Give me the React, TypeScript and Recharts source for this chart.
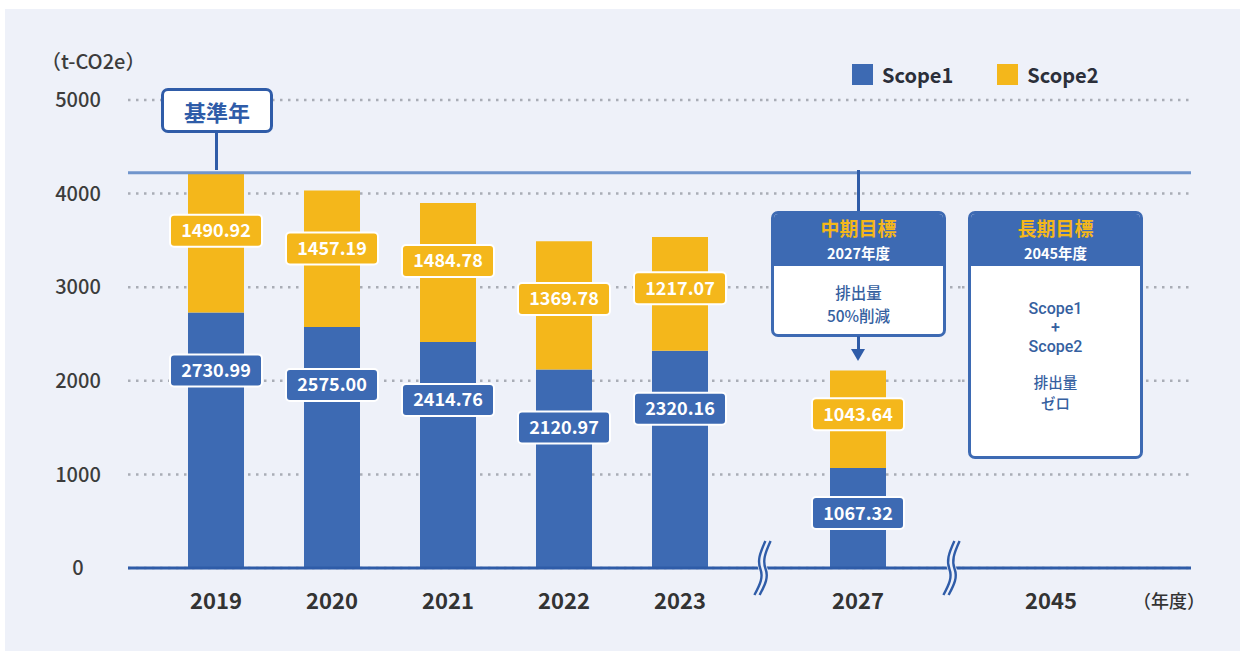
import { Bar, BarChart, CartesianGrid, LabelList, Legend, ReferenceLine, XAxis, YAxis } from "recharts";

// 実績 (t-CO2e)
const pastYears = ["2019", "2020", "2021", "2022", "2023"];
const pastScope1 = [2730.99, 2575.0, 2414.76, 2120.97, 2320.16];
const pastScope2 = [1490.92, 1457.19, 1484.78, 1369.78, 1217.07];

// 中期目標 / 長期目標
const midYears = ["2027"];
const midScope1 = [1067.32];
const midScope2 = [1043.64];
const longYears = ["2045"];

const yTicks = [0, 1000, 2000, 3000, 4000, 5000];
const baseYearTotal = pastScope1[0] + pastScope2[0];

const BLUE = "#3d6ab3";
const YELLOW = "#f4b71b";
const LINE = "#2f5ca8";
const BG = "#eef1f9";
const FONT = '"Noto Sans CJK JP", "Noto Sans", sans-serif';

const pastData = pastYears.map((year, i) => ({ year, scope1: pastScope1[i], scope2: pastScope2[i] }));
const midData = midYears.map((year, i) => ({ year, scope1: midScope1[i], scope2: midScope2[i] }));
const longData = longYears.map((year) => ({ year }));

function ValueTag(props: any) {
  const { x, y, width, height, value, fill } = props;
  if (value == null || !height) return null;
  const cx = Number(x) + Number(width) / 2;
  const cy = Number(y) + Math.min(58, Number(height) * 0.45);
  return (
    <g>
      <rect x={cx - 46} y={cy - 16} width={92} height={32} rx={4} fill={fill} stroke="#fff" strokeWidth={2} />
      <text x={cx} y={cy} dy="0.36em" textAnchor="middle" fill="#fff" fontSize={18} fontWeight={700}>
        {Number(value).toFixed(2)}
      </text>
    </g>
  );
}

const YearTick = ({ x, y, payload }: any) => (
  <text x={x} y={y + 41} textAnchor="middle" fill="#333" fontSize={22} fontWeight={700}>
    {payload.value}
  </text>
);

const ValueTick = ({ y, payload }: any) => (
  <text x={78} y={y} dy="0.36em" textAnchor="middle" fill="#3c3c3c" fontSize={20} fontWeight={500}>
    {payload.value}
  </text>
);

const LegendContent = ({ payload }: any) => (
  <div style={{ display: "flex", alignItems: "center", lineHeight: "21px" }}>
    {(payload || []).map((item: any) => (
      <div key={item.value} style={{ display: "flex", alignItems: "center", marginRight: 44 }}>
        <span style={{ display: "inline-block", width: 21, height: 21, background: item.color, marginRight: 9 }} />
        <span style={{ fontSize: 20, fontWeight: 700, color: "#2b2f3a" }}>{item.value}</span>
      </div>
    ))}
  </div>
);

function Segment({ data, left, width, padding, showY }: any) {
  return (
    <div style={{ position: "absolute", left, top: 0 }}>
      <BarChart width={width} height={651} data={data} margin={{ top: 100, right: 0, bottom: 33, left: 0 }}>
        <CartesianGrid vertical={false} stroke="#a9adb6" strokeDasharray="2.5 5.5" strokeWidth={2.5} />
        <XAxis
          dataKey="year"
          height={50}
          padding={padding}
          tickLine={false}
          tickSize={0}
          tickMargin={0}
          axisLine={{ stroke: LINE, strokeWidth: 3 }}
          tick={<YearTick />}
        />
        <YAxis
          hide={!showY}
          width={128}
          domain={[0, 5000]}
          ticks={yTicks}
          axisLine={false}
          tickLine={false}
          tickSize={0}
          tickMargin={0}
          tick={<ValueTick />}
        />
        <ReferenceLine y={baseYearTotal} stroke="#7095cc" strokeWidth={3} />
        {showY ? (
          <Legend
            layout="horizontal"
            verticalAlign="middle"
            align="center"
            content={<LegendContent />}
            wrapperStyle={{ left: 852, top: 64, width: 400 }}
          />
        ) : null}
        <Bar dataKey="scope1" name="Scope1" stackId="a" fill={BLUE} barSize={56} isAnimationActive={false}>
          <LabelList dataKey="scope1" content={(p: any) => <ValueTag {...p} fill={BLUE} />} />
        </Bar>
        <Bar dataKey="scope2" name="Scope2" stackId="a" fill={YELLOW} barSize={56} isAnimationActive={false}>
          <LabelList dataKey="scope2" content={(p: any) => <ValueTag {...p} fill={YELLOW} />} />
        </Bar>
      </BarChart>
    </div>
  );
}

function BreakMark({ x }: { x: number }) {
  const d = "M17 4 C11 17, 9 24, 12 32 S 12 47, 6 58";
  return (
    <svg style={{ position: "absolute", left: x - 12, top: 537 }} width={26} height={62}>
      <path d={d} stroke={BG} strokeWidth={9} fill="none" />
      <path d={d} transform="translate(-2.6,0)" stroke={LINE} strokeWidth={2.4} fill="none" />
      <path d={d} transform="translate(2.6,0)" stroke={LINE} strokeWidth={2.4} fill="none" />
    </svg>
  );
}

// line: [text, fontSize, lineHeight, latin?]
function TargetBox({ left, height, title, year, lines, bodyTop }: any) {
  return (
    <div
      style={{
        position: "absolute",
        left,
        top: 211,
        width: 175,
        height,
        boxSizing: "border-box",
        border: `3px solid ${BLUE}`,
        borderRadius: 7,
        background: "#fff",
        overflow: "hidden",
        textAlign: "center",
      }}
    >
      <div style={{ background: BLUE, height: 52, paddingTop: 2, boxSizing: "border-box" }}>
        <div style={{ color: YELLOW, fontSize: 19, fontWeight: 700, lineHeight: "24px", height: 24 }}>{title}</div>
        <div style={{ color: "#fff", fontSize: 14.5, fontWeight: 700, lineHeight: "26px", height: 26 }}>{year}</div>
      </div>
      <div style={{ paddingTop: bodyTop, color: "#35609f", fontWeight: 500 }}>
        {lines.map(([t, size, h, latin]: any, i: number) => (
          <div
            key={i}
            style={{
              fontSize: size,
              lineHeight: `${h}px`,
              height: h,
              fontFamily: latin ? "Roboto, sans-serif" : FONT,
            }}
          >
            {t}
          </div>
        ))}
      </div>
    </div>
  );
}

export default function App() {
  return (
    <div style={{ position: "relative", width: 1244, height: 651, background: "#fff", fontFamily: FONT, overflow: "hidden" }}>
      <style>{"body{margin:0}"}</style>
      <div style={{ position: "absolute", left: 5, top: 9, width: 1235, height: 642, background: BG }} />

      <Segment data={pastData} left={0} width={766} padding={{ left: 30, right: 28 }} showY />
      <Segment data={midData} left={766} width={196} padding={{ left: 0, right: 12 }} />
      <Segment data={longData} left={962} width={229} padding={{ left: 0, right: 51 }} />

      <BreakMark x={763} />
      <BreakMark x={952} />

      <div style={{ position: "absolute", left: 41, top: 48, fontSize: 20, fontWeight: 500, color: "#3c3c3c", lineHeight: "26px" }}>
        （t-CO2e）
      </div>
      <div style={{ position: "absolute", left: 1133, top: 587, fontSize: 18, fontWeight: 500, color: "#333", lineHeight: "26px" }}>
        （年度）
      </div>

      {/* 基準年 */}
      <div style={{ position: "absolute", left: 215, top: 132, width: 3, height: 38, background: LINE }} />
      <div
        style={{
          position: "absolute",
          left: 161,
          top: 88,
          width: 112,
          height: 45,
          boxSizing: "border-box",
          border: `3px solid ${LINE}`,
          borderRadius: 7,
          background: "#fff",
          color: LINE,
          fontSize: 22,
          fontWeight: 700,
          display: "flex",
          alignItems: "center",
          justifyContent: "center",
        }}
      >
        基準年
      </div>

      {/* 中期目標 */}
      <div style={{ position: "absolute", left: 857, top: 170, width: 3, height: 42, background: LINE }} />
      <TargetBox
        left={771}
        height={126}
        title="中期目標"
        year="2027年度"
        lines={[
          ["排出量", 15.5, 23],
          ["50%削減", 15.5, 23],
        ]}
        bodyTop={15}
      />
      <div style={{ position: "absolute", left: 857, top: 336, width: 3, height: 14, background: LINE }} />
      <div
        style={{
          position: "absolute",
          left: 851,
          top: 349,
          width: 0,
          height: 0,
          borderLeft: "7.5px solid transparent",
          borderRight: "7.5px solid transparent",
          borderTop: `12px solid ${LINE}`,
        }}
      />

      {/* 長期目標 */}
      <TargetBox
        left={968}
        height={248}
        title="長期目標"
        year="2045年度"
        lines={[
          ["Scope1", 16, 19, true],
          ["+", 16, 19, true],
          ["Scope2", 16, 19, true],
          ["", 14, 15, true],
          ["排出量", 14.5, 21],
          ["ゼロ", 14.5, 21],
        ]}
        bodyTop={33}
      />
    </div>
  );
}
